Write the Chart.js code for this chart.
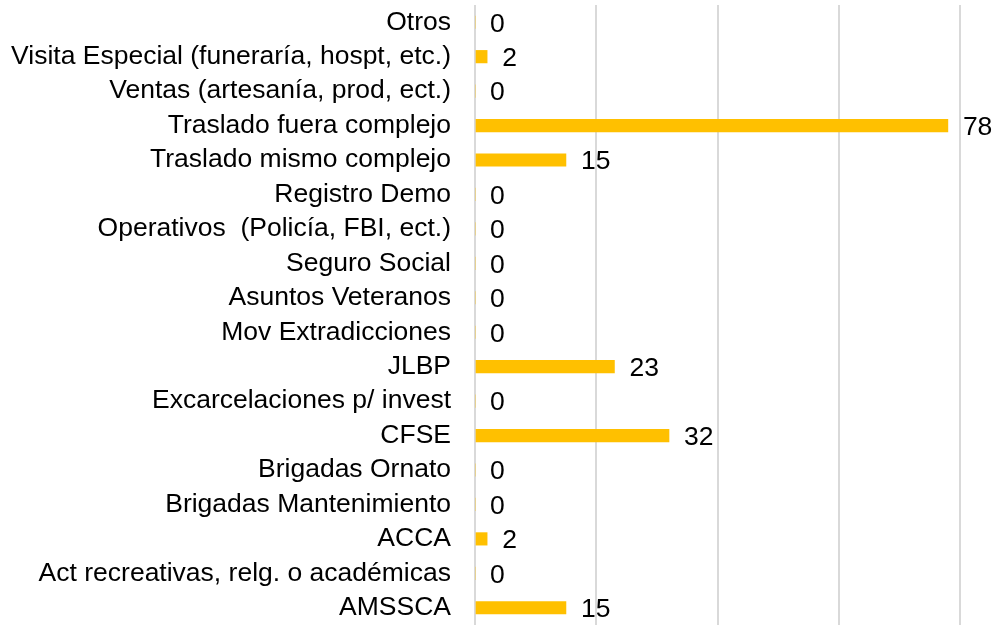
<!DOCTYPE html>
<html>
<head>
<meta charset="utf-8">
<script src="https://cdn.jsdelivr.net/npm/chart.js@4/dist/chart.umd.min.js"></script>
<style>
  html, body { margin: 0; padding: 0; background: #fff; }
  #wrap { width: 998px; height: 625px; position: relative; }
</style>
</head>
<body>
<div id="wrap"><canvas id="c"></canvas></div>
<script>
// Motivos de movimiento y cantidad registrada
const categories = [
  "Otros",
  "Visita Especial (funeraría, hospt, etc.)",
  "Ventas (artesanía, prod, ect.)",
  "Traslado fuera complejo",
  "Traslado mismo complejo",
  "Registro Demo",
  "Operativos  (Policía, FBI, ect.)",
  "Seguro Social",
  "Asuntos Veteranos",
  "Mov Extradicciones",
  "JLBP",
  "Excarcelaciones p/ invest",
  "CFSE",
  "Brigadas Ornato",
  "Brigadas Mantenimiento",
  "ACCA",
  "Act recreativas, relg. o académicas",
  "AMSSCA"
];
const values = [0, 2, 0, 78, 15, 0, 0, 0, 0, 0, 23, 0, 32, 0, 0, 2, 0, 15];

const FONT = "'Liberation Sans', Arial, Helvetica, sans-serif";
const FONT_SIZE = 26.5;

// Writes each bar's value just past the end of the bar
const valueLabels = {
  id: 'valueLabels',
  afterDatasetsDraw(chart) {
    const ctx = chart.ctx;
    const meta = chart.getDatasetMeta(0);
    ctx.save();
    ctx.font = FONT_SIZE + "px " + FONT;
    ctx.fillStyle = "#000";
    ctx.textAlign = "left";
    ctx.textBaseline = "middle";
    meta.data.forEach((bar, i) => {
      ctx.fillText(String(values[i]), bar.x + 15, bar.y + 2);
    });
    ctx.restore();
  }
};

new Chart(document.getElementById('c'), {
  type: 'bar',
  data: {
    labels: categories,
    datasets: [{
      data: values,
      backgroundColor: '#FFC000',
      borderWidth: 0,
      barThickness: 12.5
    }]
  },
  options: {
    indexAxis: 'y',
    responsive: true,
    maintainAspectRatio: false,
    animation: false,
    layout: { padding: { left: 0, right: 38, top: 5, bottom: -2 } },
    plugins: {
      legend: { display: false },
      tooltip: { enabled: false }
    },
    scales: {
      x: {
        min: 0,
        max: 80,
        ticks: { display: false, stepSize: 20 },
        grid: { color: '#d9d9d9', lineWidth: 2, drawTicks: false },
        border: { display: false }
      },
      y: {
        ticks: {
          color: '#000',
          font: { family: FONT, size: FONT_SIZE },
          padding: 24,
          autoSkip: false
        },
        grid: { display: false, drawTicks: false },
        border: { display: false },
        afterFit(scale) {
          scale.width = 475;
          scale.paddingTop = 0;
          scale.paddingBottom = 0;
        }
      }
    }
  },
  plugins: [valueLabels]
});
</script>
</body>
</html>
